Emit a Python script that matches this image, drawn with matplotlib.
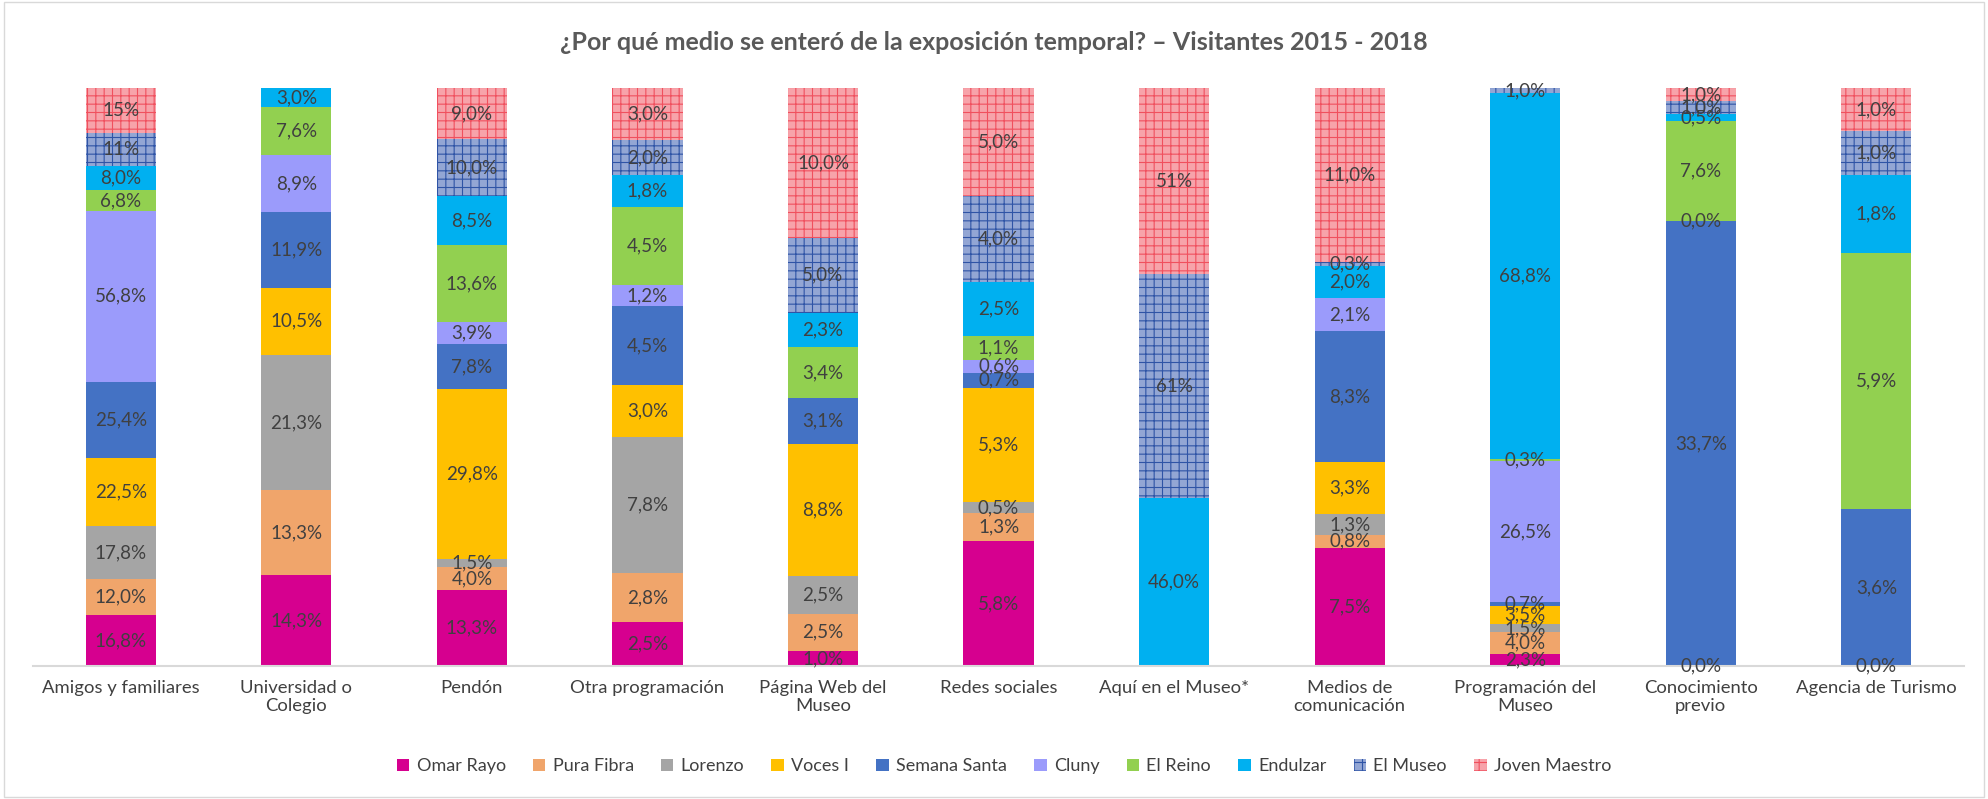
import matplotlib
matplotlib.use('Agg')
import matplotlib.pyplot as plt
import numpy as np
from matplotlib.patches import Rectangle

plt.rcParams['font.family'] = ['Lato', 'DejaVu Sans']
plt.rcParams['hatch.linewidth'] = 0.8

# Categories (x axis)
categories = ['Amigos y familiares', 'Universidad o\nColegio', 'Pendón',
              'Otra programación', 'Página Web del\nMuseo', 'Redes sociales',
              'Aquí en el Museo*', 'Medios de\ncomunicación',
              'Programación del\nMuseo', 'Conocimiento\nprevio',
              'Agencia de Turismo']

# Series values as printed on the labels (None = no segment)
# int -> label without decimals, float -> label with one decimal
omar_rayo     = [16.8, 14.3, 13.3, 2.5, 1.0, 5.8, None, 7.5, 2.3, 0.0, 0.0]
pura_fibra    = [12.0, 13.3, 4.0, 2.8, 2.5, 1.3, None, 0.8, 4.0, None, None]
lorenzo       = [17.8, 21.3, 1.5, 7.8, 2.5, 0.5, None, 1.3, 1.5, None, None]
voces_i       = [22.5, 10.5, 29.8, 3.0, 8.8, 5.3, None, 3.3, 3.5, None, None]
semana_santa  = [25.4, 11.9, 7.8, 4.5, 3.1, 0.7, None, 8.3, 0.7, 33.7, 3.6]
cluny         = [56.8, 8.9, 3.9, 1.2, None, 0.6, None, 2.1, 26.5, 0.0, None]
el_reino      = [6.8, 7.6, 13.6, 4.5, 3.4, 1.1, None, None, 0.3, 7.6, 5.9]
endulzar      = [8.0, 3.0, 8.5, 1.8, 2.3, 2.5, 46.0, 2.0, 68.8, 0.5, 1.8]
el_museo      = [11, None, 10.0, 2.0, 5.0, 4.0, 61, 0.3, 1.0, 1.0, 1.0]
joven_maestro = [15, None, 9.0, 3.0, 10.0, 5.0, 51, 11.0, None, 1.0, 1.0]

series_names = ['Omar Rayo', 'Pura Fibra', 'Lorenzo', 'Voces I', 'Semana Santa',
                'Cluny', 'El Reino', 'Endulzar', 'El Museo', 'Joven Maestro']
series_data = [omar_rayo, pura_fibra, lorenzo, voces_i, semana_santa,
               cluny, el_reino, endulzar, el_museo, joven_maestro]

# styles: (facecolor, hatch, hatchcolor)
styles = [('#D6008F', None, None),
          ('#F0A56B', None, None),
          ('#A5A5A5', None, None),
          ('#FFC000', None, None),
          ('#4472C4', None, None),
          ('#9B9BFB', None, None),
          ('#92D050', None, None),
          ('#00B0F0', None, None),
          ('#93A6D4', '++', '#2F54A6'),
          ('#F7A3AA', '++', '#F0505E')]


def fmt(v):
    if isinstance(v, int):
        return '%d%%' % v
    return ('%.1f%%' % v).replace('.', ',')


vals = np.array([[np.nan if v is None else v for v in s] for s in series_data])
totals = np.nansum(vals, axis=0)
pct = np.nan_to_num(vals) / totals * 100

fig = plt.figure(figsize=(19.88, 7.99), dpi=100)
ax = fig.add_axes([0.0166, 0.1665, 0.9714, 0.7235])

x = np.arange(len(categories))
bottom = np.zeros(len(categories))
handles = []
for i, name in enumerate(series_names):
    fc, hatch, hc = styles[i]
    if hatch:
        ax.bar(x, pct[i], 0.4, bottom=bottom, color=fc, hatch=hatch,
               edgecolor=hc, linewidth=0)
    else:
        ax.bar(x, pct[i], 0.4, bottom=bottom, color=fc, linewidth=0)
    for j in range(len(categories)):
        v = series_data[i][j]
        if v is None:
            continue
        ax.text(x[j], bottom[j] + pct[i][j] / 2, fmt(v), ha='center', va='center',
                fontsize=13.5, color='#404040')
    bottom += pct[i]
    handles.append(Rectangle((0, 0), 1, 1, facecolor=fc, hatch=hatch,
                             edgecolor=hc if hc else fc, linewidth=0))

ax.set_ylim(0, 100)
ax.set_xlim(-0.5, len(categories) - 0.5)
ax.set_yticks([])
ax.set_xticks(x)
ax.set_xticklabels(categories, fontsize=13.3, color='#404040')
ax.tick_params(axis='x', length=0, pad=10)
for s in ['top', 'right', 'left']:
    ax.spines[s].set_visible(False)
ax.spines['bottom'].set_color('#D9D9D9')
ax.spines['bottom'].set_linewidth(1.5)

fig.text(0.5, 0.947, '¿Por qué medio se enteró de la exposición temporal? – Visitantes 2015 - 2018',
         ha='center', va='center', fontsize=18, fontweight='bold', color='#595959')

fig.legend(handles, series_names, loc='center', bbox_to_anchor=(0.505, 0.041),
           ncol=10, frameon=False, fontsize=13, handlelength=0.7, handleheight=0.7,
           handletextpad=0.4, columnspacing=1.5, labelcolor='#404040')

fig.patches.append(Rectangle((0.002, 0.003), 0.996, 0.994, transform=fig.transFigure,
                             fill=False, edgecolor='#D9D9D9', linewidth=1))

fig.savefig('out.png', dpi=100)
